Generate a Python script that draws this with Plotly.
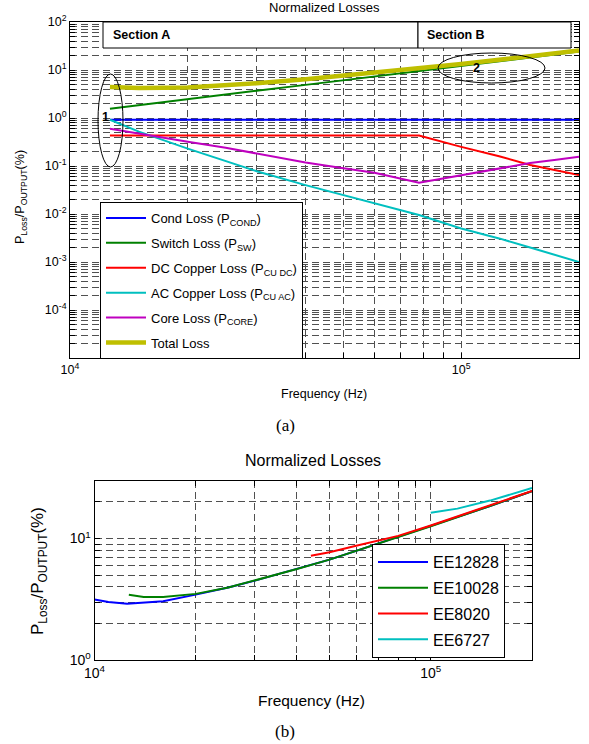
import plotly.graph_objects as go

W, H = 589, 744

# ---------------- data: panel (a) ----------------
freq_a = [12650, 15000, 20000, 25000, 30000, 40000, 50000, 60000, 78000,
          100000, 125000, 150000, 175000, 200000]
cond_loss = [0.92, 0.92, 0.92, 0.92, 0.92, 0.92, 0.92, 0.92, 0.92,
             0.92, 0.92, 0.92, 0.92, 0.92]
switch_loss = [1.55, 1.85, 2.45, 3.05, 3.7, 4.9, 6.1, 7.3, 9.5,
               12.2, 15.2, 18.3, 21.3, 24.3]
dc_copper_loss = [0.43, 0.43, 0.43, 0.43, 0.43, 0.43, 0.43, 0.43, 0.43,
                  0.25, 0.16, 0.105, 0.082, 0.065]
ac_copper_loss = [0.92, 0.52, 0.23, 0.125, 0.078, 0.04, 0.025, 0.017, 0.0095,
                  0.005, 0.0031, 0.002, 0.0014, 0.001]
core_loss = [0.6, 0.47, 0.32, 0.24, 0.184, 0.118, 0.09, 0.072, 0.045,
             0.065, 0.088, 0.115, 0.135, 0.155]
total_loss = [4.4, 4.2, 4.3, 4.8, 5.3, 6.4, 7.6, 8.7, 10.9,
              13.4, 16.4, 19.4, 22.4, 25.5]

names_a = ["Cond Loss (P<sub>COND</sub>)", "Switch Loss (P<sub>SW</sub>)",
           "DC Copper Loss (P<sub>CU DC</sub>)", "AC Copper Loss (P<sub>CU AC</sub>)",
           "Core Loss (P<sub>CORE</sub>)", "Total Loss"]

# ---------------- data: panel (b) ----------------
freq_ee12828 = [10000, 11000, 12500, 14000, 16000, 20000, 25000, 30000, 40000,
                50000, 60000, 80000, 100000, 150000, 200000]
ee12828 = [3.15, 3.0, 2.9, 2.95, 3.05, 3.45, 3.95, 4.5, 5.6,
           6.7, 7.9, 10.3, 12.6, 18.5, 24.5]
freq_ee10028 = [12650, 14000, 16000, 20000, 25000, 30000, 40000, 50000, 60000,
                80000, 100000, 150000, 200000]
ee10028 = [3.45, 3.3, 3.3, 3.5, 3.95, 4.5, 5.6, 6.7, 7.9,
           10.3, 12.6, 18.5, 24.5]
freq_ee8020 = [44000, 50000, 60000, 70000, 80000, 100000, 150000, 200000]
ee8020 = [7.2, 7.7, 8.7, 9.6, 10.5, 12.8, 18.6, 24.6]
freq_ee6727 = [100000, 120000, 150000, 200000]
ee6727 = [16.3, 17.6, 20.5, 26.0]

names_b = ["EE12828", "EE10028", "EE8020", "EE6727"]

# tick values
x_ticks = [k * 10 ** 4 for k in range(1, 10)] + [1e5, 2e5]
x_text = ["10<sup>4</sup>"] + [""] * 8 + ["10<sup>5</sup>", ""]
ya_ticks = [k * 10.0 ** n for n in range(-5, 2) for k in range(1, 10)] + [100]
ya_text = [("10<sup>%d</sup>" % n if (k == 1 and n != -5) else "")
           for n in range(-5, 2) for k in range(1, 10)] + ["10<sup>2</sup>"]
yb_ticks = [1, 2, 3, 4, 5, 6, 7, 8, 9, 10, 20, 30]
yb_text = ["10<sup>0</sup>"] + [""] * 8 + ["10<sup>1</sup>", "", ""]

BLUE, GREEN, RED, CYAN, MAG, OLIVE = "#0000FF", "#008000", "#FF0000", "#00BFBF", "#BF00BF", "#BFBF00"


def px(x):
    return x / W


def py(y):
    return 1 - y / H


fig = go.Figure()

series_a = [cond_loss, switch_loss, dc_copper_loss, ac_copper_loss, core_loss, total_loss]
colors_a = [BLUE, GREEN, RED, CYAN, MAG, OLIVE]
widths_a = [2, 2, 2, 2, 2, 4.5]
for i, (vals, c, w, n) in enumerate(zip(series_a, colors_a, widths_a, names_a)):
    fig.add_trace(go.Scatter(x=freq_a, y=vals, mode="lines", name=n,
                             line=dict(color=c, width=w), xaxis="x", yaxis="y",
                             legend="legend", legendgroup="a%d" % i))

series_b = [(freq_ee12828, ee12828), (freq_ee10028, ee10028),
            (freq_ee8020, ee8020), (freq_ee6727, ee6727)]
colors_b = [BLUE, GREEN, RED, CYAN]
for i, ((fx, fy), c, n) in enumerate(zip(series_b, colors_b, names_b)):
    fig.add_trace(go.Scatter(x=fx, y=fy, mode="lines", name=n,
                             line=dict(color=c, width=2), xaxis="x2", yaxis="y2",
                             legend="legend2", legendgroup="b%d" % i))

grid = dict(showgrid=True, gridcolor="#505050", gridwidth=1, griddash="7px,4px",
            showline=True, linecolor="black", linewidth=1, mirror="ticks",
            ticks="inside", ticklen=5, tickcolor="black", zeroline=False,
            automargin=False)

fig.update_layout(
    template="none",
    width=W, height=H, margin=dict(l=0, r=0, t=0, b=0, autoexpand=False),
    paper_bgcolor="white", plot_bgcolor="white",
    font=dict(family="Liberation Sans, Arial, sans-serif", color="black"),
    xaxis=dict(type="log", range=[4, 5.30103], domain=[px(70), px(579)], anchor="y",
               tickmode="array", tickvals=x_ticks, ticktext=x_text,
               tickfont=dict(size=12.5), **grid),
    yaxis=dict(type="log", range=[-5, 2], domain=[py(358), py(22)], anchor="x",
               tickmode="array", tickvals=ya_ticks, ticktext=ya_text,
               tickfont=dict(size=12.5), **grid),
    xaxis2=dict(type="log", range=[4, 5.30103], domain=[px(94.5), px(532)], anchor="y2",
                tickmode="array", tickvals=x_ticks, ticktext=x_text,
                tickfont=dict(size=14), **grid),
    yaxis2=dict(type="log", range=[0, 1.4771], domain=[py(660), py(480.5)], anchor="x2",
                tickmode="array", tickvals=yb_ticks, ticktext=yb_text,
                tickfont=dict(size=14), **grid),
    legend=dict(x=px(100), y=py(202), xanchor="left", yanchor="top",
                bgcolor="white", bordercolor="black", borderwidth=1,
                font=dict(size=13), itemwidth=40, tracegroupgap=5),
    legend2=dict(x=px(372), y=py(544), xanchor="left", yanchor="top",
                 bgcolor="white", bordercolor="black", borderwidth=1,
                 font=dict(size=16), itemwidth=50, tracegroupgap=2),
    showlegend=True,
)

shapes = [
    dict(type="rect", xref="paper", yref="paper", x0=px(103), x1=px(418), y0=py(48), y1=py(22),
         line=dict(color="black", width=1), fillcolor="white", layer="above"),
    dict(type="rect", xref="paper", yref="paper", x0=px(418), x1=px(571), y0=py(48), y1=py(22),
         line=dict(color="black", width=1), fillcolor="white", layer="above"),
    dict(type="circle", xref="paper", yref="paper", x0=px(98), x1=px(123), y0=py(167), y1=py(74),
         line=dict(color="black", width=1), layer="above"),
    dict(type="circle", xref="paper", yref="paper", x0=px(438), x1=px(545), y0=py(83), y1=py(53),
         line=dict(color="black", width=1), layer="above"),
]
fig.update_layout(shapes=shapes)

ann = [
    dict(x=px(324), y=py(8), text="Normalized Losses", font=dict(size=13)),
    dict(x=px(313), y=py(460), text="Normalized Losses", font=dict(size=16)),
    dict(x=px(324), y=py(394), text="Frequency (Hz)", font=dict(size=12.5)),
    dict(x=px(311), y=py(700), text="Frequency (Hz)", font=dict(size=15.5)),
    dict(x=px(21), y=py(197), text="P<sub>Loss</sub>/P<sub>OUTPUT</sub>(%)",
         textangle=-90, font=dict(size=12.5)),
    dict(x=px(39), y=py(571), text="P<sub>Loss</sub>/P<sub>OUTPUT</sub>(%)",
         textangle=-90, font=dict(size=17)),
    dict(x=px(111), y=py(35), text="<b>Section A</b>", xanchor="left", font=dict(size=12.5)),
    dict(x=px(425), y=py(35), text="<b>Section B</b>", xanchor="left", font=dict(size=12.5)),
    dict(x=px(105), y=py(117), text="<b>1</b>", font=dict(size=12.5)),
    dict(x=px(476), y=py(68), text="<b>2</b>", font=dict(size=12.5)),
    dict(x=px(285), y=py(425), text="(a)", font=dict(size=17, family="Liberation Serif, Times New Roman, serif")),
    dict(x=px(285), y=py(731), text="(b)", font=dict(size=17, family="Liberation Serif, Times New Roman, serif")),
]
for a in ann:
    a.setdefault("xref", "paper")
    a.setdefault("yref", "paper")
    a.setdefault("showarrow", False)
    a.setdefault("xanchor", "center")
    a.setdefault("yanchor", "middle")
fig.update_layout(annotations=ann)

fig.write_html("out.html", config={"displayModeBar": False},
               post_script="document.body.style.margin='0';")
